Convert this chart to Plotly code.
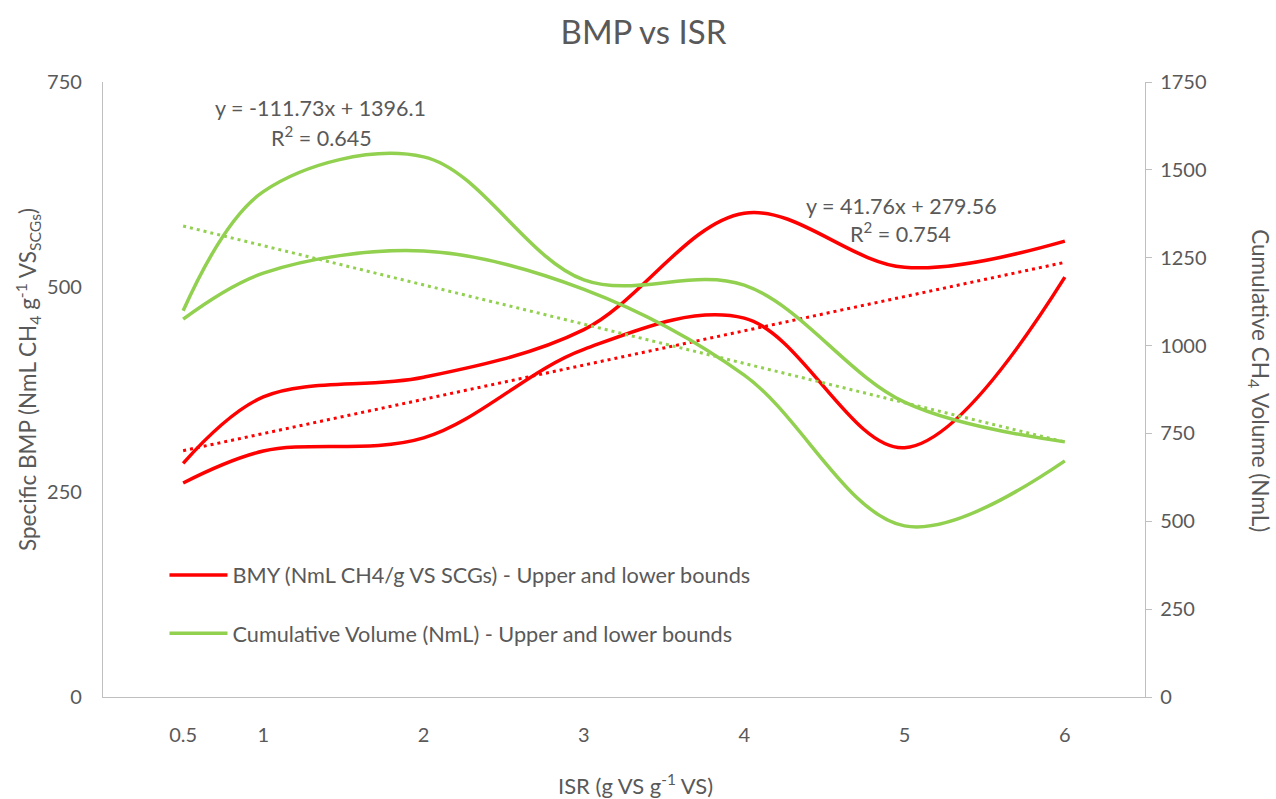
import plotly.graph_objects as go

# ---------------- data ----------------
isr = [0.5, 1, 2, 3, 4, 5, 6]
bmy_upper = [285, 366, 390, 448, 590, 524, 556]
bmy_lower = [261, 300, 316, 424, 462, 304, 512]
vol_upper = [1099, 1438, 1537, 1187, 1172, 839, 726]
vol_lower = [1075, 1206, 1269, 1160, 916, 487, 672]
trend_x = [0.5, 6]
bmy_trend = [300.4, 530.1]
vol_trend = [1340.2, 725.7]
x_tickvals = [0.5, 1, 2, 3, 4, 5, 6]
x_ticktext = ["0.5", "1", "2", "3", "4", "5", "6"]
left_ticks = [0, 250, 500, 750]
right_ticks = [0, 250, 500, 750, 1000, 1250, 1500, 1750]

RED = "#FF0000"
GREEN = "#92D050"
TXT = "#595959"
AX = "#BFBFBF"
FONT = "Lato"

fig = go.Figure()

fig.add_trace(go.Scatter(x=isr, y=bmy_upper, mode="lines",
                         line=dict(color=RED, width=3.5, shape="spline", smoothing=1),
                         name="BMY (NmL CH4/g VS SCGs) - Upper and lower bounds",
                         legendgroup="a", showlegend=True))
fig.add_trace(go.Scatter(x=isr, y=bmy_lower, mode="lines",
                         line=dict(color=RED, width=3.5, shape="spline", smoothing=1),
                         name="BMY lower", legendgroup="a", showlegend=False))
fig.add_trace(go.Scatter(x=isr, y=vol_upper, mode="lines", yaxis="y2",
                         line=dict(color=GREEN, width=3.5, shape="spline", smoothing=1),
                         name="Cumulative Volume (NmL) - Upper and lower bounds",
                         legendgroup="b", showlegend=True))
fig.add_trace(go.Scatter(x=isr, y=vol_lower, mode="lines", yaxis="y2",
                         line=dict(color=GREEN, width=3.5, shape="spline", smoothing=1),
                         name="Volume lower", legendgroup="b", showlegend=False))
fig.add_trace(go.Scatter(x=trend_x, y=bmy_trend, mode="lines",
                         line=dict(color=RED, width=3, dash="3px,4px"),
                         showlegend=False, hoverinfo="skip"))
fig.add_trace(go.Scatter(x=trend_x, y=vol_trend, mode="lines", yaxis="y2",
                         line=dict(color=GREEN, width=3, dash="3px,4px"),
                         showlegend=False, hoverinfo="skip"))

ann_font = dict(family=FONT, size=21.5, color=TXT)
axt_font = dict(family=FONT, size=22.5, color=TXT)
annotations = [
    dict(text="ISR (g VS g<sup>-1</sup> VS)", xref="paper", yref="paper",
         x=0.5106, y=-0.143, xanchor="center", yanchor="middle", showarrow=False,
         font=dict(family=FONT, size=22, color=TXT)),
    dict(text="Specific BMP (NmL CH<sub>4</sub> g<sup>-1</sup> VS<sub>SCGs</sub>)", xref="paper", yref="paper",
         x=-0.0730, y=0.517, xanchor="center", yanchor="middle", textangle=-90, showarrow=False, font=axt_font),
    dict(text="Cumulative CH<sub>4</sub> Volume (NmL)", xref="paper", yref="paper",
         x=1.1095, y=0.515, xanchor="center", yanchor="middle", textangle=90, showarrow=False, font=axt_font),
    dict(text="y = -111.73x + 1396.1", xref="paper", yref="paper",
         x=0.2083, y=0.9577, xanchor="center", yanchor="middle", showarrow=False, font=ann_font),
    dict(text="R<sup>2</sup> = 0.645", xref="paper", yref="paper",
         x=0.2093, y=0.9106, xanchor="center", yanchor="middle", showarrow=False, font=ann_font),
    dict(text="y = 41.76x + 279.56", xref="paper", yref="paper",
         x=0.7663, y=0.7984, xanchor="center", yanchor="middle", showarrow=False, font=ann_font),
    dict(text="R<sup>2</sup> = 0.754", xref="paper", yref="paper",
         x=0.7658, y=0.7545, xanchor="center", yanchor="middle", showarrow=False, font=ann_font),
]

fig.update_layout(
    width=1276, height=799,
    margin=dict(l=103, r=131, t=82, b=102),
    paper_bgcolor="white", plot_bgcolor="white",
    font=dict(family=FONT, color=TXT, size=20),
    title=dict(text="BMP vs ISR", x=0.5043, xanchor="center", xref="container",
               y=0.96, yanchor="middle", yref="container",
               font=dict(family=FONT, size=33, color=TXT)),
    xaxis=dict(range=[0, 6.5], tickvals=x_tickvals, ticktext=x_ticktext,
               showgrid=False, zeroline=False, showline=True, linecolor=AX, linewidth=1.3,
               ticks="", ticklabelstandoff=20, tickfont=dict(family=FONT, size=20, color=TXT)),
    yaxis=dict(range=[0, 750], tickvals=left_ticks, showgrid=False, zeroline=False,
               showline=True, linecolor=AX, linewidth=1.3, ticks="", ticklabelstandoff=16,
               tickfont=dict(family=FONT, size=20, color=TXT)),
    yaxis2=dict(range=[0, 1750], tickvals=right_ticks, overlaying="y", side="right",
                showgrid=False, zeroline=False, showline=True, linecolor=AX, linewidth=1.3,
                ticks="outside", ticklen=6, tickcolor=AX, tickwidth=1.3, ticklabelstandoff=4,
                tickfont=dict(family=FONT, size=20, color=TXT)),
    legend=dict(x=0.059, y=0.232, xanchor="left", yanchor="top", bgcolor="rgba(0,0,0,0)",
                font=dict(family=FONT, size=21.7, color=TXT), traceorder="grouped",
                tracegroupgap=27, itemwidth=58),
    annotations=annotations,
    showlegend=True,
)

fig.write_html("out.html")
